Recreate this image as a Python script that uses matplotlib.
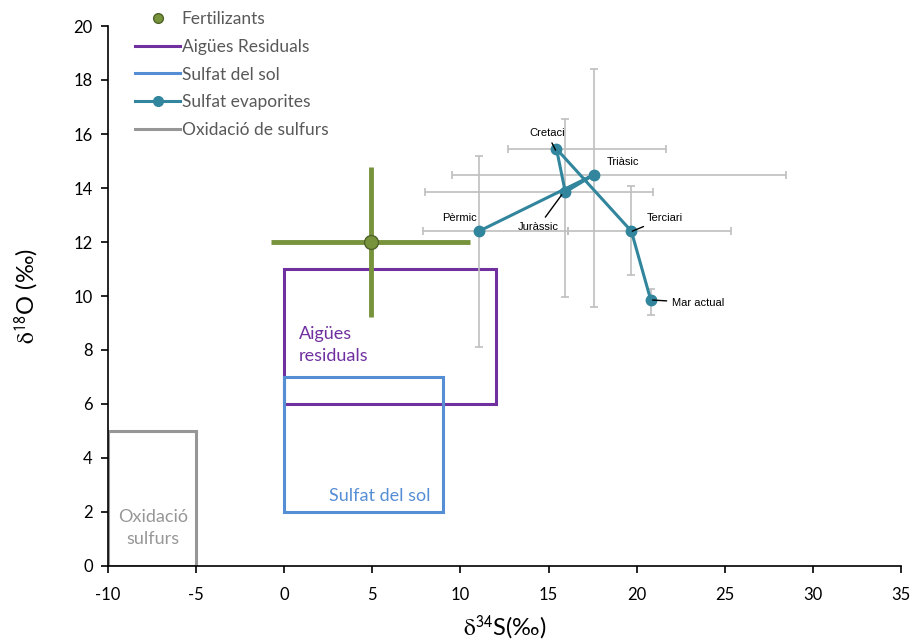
import numpy as np
import matplotlib.pyplot as plt
from matplotlib.patches import Rectangle
from matplotlib.lines import Line2D

plt.rcParams['font.family'] = ['Lato', 'DejaVu Sans']
plt.rcParams['mathtext.fontset'] = 'stix'
plt.rcParams['axes.unicode_minus'] = False

# fertilitzants (punt amb error)
fert_x = 4.9
fert_y = 12.0
fert_xerr = 5.65
fert_yerr = 2.78

# camps rectangulars: (x0, x1, y0, y1)
aigues = (0, 12, 6, 11)
sol = (0, 9, 2, 7)
oxid = (-10, -5, 0, 5)

# sulfat d'evaporites per edat
evap_noms = ['Pèrmic', 'Triàsic', 'Juràssic', 'Cretaci', 'Terciari', 'Mar actual']
evap_x = [11.05, 17.6, 15.95, 15.45, 19.7, 20.8]
evap_y = [12.4, 14.5, 13.85, 15.45, 12.4, 9.85]
evap_xerr_lo = [3.2, 8.1, 7.95, 2.75, 3.6, 0.0]
evap_xerr_hi = [5.05, 10.9, 4.95, 6.2, 5.65, 0.0]
evap_yerr_lo = [4.3, 4.9, 3.9, 0.0, 1.62, 0.55]
evap_yerr_hi = [2.8, 3.9, 2.7, 0.0, 1.67, 0.42]

# posicio de les etiquetes i de la linia guia
etiq_pos = {
    'Pèrmic': (9.95, 12.9, None),
    'Triàsic': (19.25, 14.95, None),
    'Juràssic': (14.4, 12.55, (15.75, 13.75)),
    'Cretaci': (14.9, 16.05, (15.4, 15.4)),
    'Terciari': (21.6, 12.9, (19.75, 12.4)),
    'Mar actual': (23.5, 9.75, (20.9, 9.85)),
}

verd = '#77933C'
lila = '#7030A0'
blau = '#558ED5'
gris = '#969696'
teal = '#31859C'

fig = plt.figure(figsize=(9.11, 6.41), dpi=100)
ax = fig.add_axes([108/911, 75/641, 793/911, 540/641])

def rectangle(r, color):
    x0, x1, y0, y1 = r
    ax.add_patch(Rectangle((x0, y0), x1 - x0, y1 - y0, fill=False,
                           edgecolor=color, linewidth=2.2, zorder=2))

rectangle(aigues, lila)
rectangle(sol, blau)
rectangle(oxid, gris)

ax.text(0.85, 8.2, 'Aigües\nresiduals', color=lila, fontsize=13,
        va='center', ha='left', linespacing=1.45)
ax.text(2.55, 2.6, 'Sulfat del sol', color=blau, fontsize=13, va='center')
ax.text(-7.45, 1.4, 'Oxidació\nsulfurs', color=gris, fontsize=13,
        va='center', ha='center', linespacing=1.45)

# barres d'error de les evaporites
ax.errorbar(evap_x, evap_y,
            xerr=[evap_xerr_lo, evap_xerr_hi],
            yerr=[evap_yerr_lo, evap_yerr_hi],
            fmt='none', ecolor='#BFBFBF', elinewidth=1.2, capsize=3,
            capthick=1.2, zorder=3)

ax.plot(evap_x, evap_y, '-o', color=teal, linewidth=2.2, markersize=7.5,
        zorder=5)

for nom, px, py in zip(evap_noms, evap_x, evap_y):
    tx, ty, guia = etiq_pos[nom]
    if guia is None:
        ax.text(tx, ty, nom, fontsize=8, ha='center', va='center',
                family=['Liberation Sans', 'DejaVu Sans'], zorder=6)
    else:
        ax.annotate(nom, xy=guia, xytext=(tx, ty), fontsize=8,
                    ha='center', va='center',
                    family=['Liberation Sans', 'DejaVu Sans'],
                    arrowprops=dict(arrowstyle='-', color='black', lw=1,
                                    shrinkA=2, shrinkB=0), zorder=6)

# fertilitzants
ax.errorbar([fert_x], [fert_y], xerr=fert_xerr, yerr=fert_yerr, fmt='none',
            ecolor=verd, elinewidth=3.5, capsize=0, zorder=4)
ax.plot([fert_x], [fert_y], 'o', color=verd, markeredgecolor='#4F6228',
        markersize=10, zorder=6)

ax.set_xlim(-10, 35)
ax.set_ylim(0, 20)
ax.set_xticks(np.arange(-10, 36, 5))
ax.set_yticks(np.arange(0, 21, 2))
ax.spines['top'].set_visible(False)
ax.spines['right'].set_visible(False)
ax.spines['left'].set_linewidth(1.2)
ax.spines['bottom'].set_linewidth(1.2)
ax.tick_params(labelsize=12, length=5, width=1.2)
ax.tick_params(axis='x', pad=10)
ax.tick_params(axis='y', pad=6)

ax.set_xlabel(r'$\mathrm{\delta}^{\mathsf{34}}$S(‰)', fontsize=17, labelpad=8)
ax.set_ylabel(r'$\mathrm{\delta}^{\mathsf{18}}$O (‰)', fontsize=17, labelpad=24)

handles = [
    Line2D([], [], linestyle='none', marker='o', color=verd,
           markeredgecolor='#4F6228', markersize=7),
    Line2D([], [], color=lila, linewidth=2.2),
    Line2D([], [], color=blau, linewidth=2.2),
    Line2D([], [], color=teal, linewidth=2.2, marker='o', markersize=7),
    Line2D([], [], color=gris, linewidth=2.2),
]
etiquetes = ['Fertilizants', 'Aigües Residuals', 'Sulfat del sol',
             'Sulfat evaporites', 'Oxidació de sulfurs']
leg = fig.legend(handles, etiquetes, loc='upper left',
                 bbox_to_anchor=(128/911, 1 - 4/641), frameon=False,
                 fontsize=12.5, handlelength=2.6, handletextpad=0.1,
                 labelspacing=0.68, borderaxespad=0)
for t in leg.get_texts():
    t.set_color('#595959')

fig.savefig('out.png', dpi=100)
